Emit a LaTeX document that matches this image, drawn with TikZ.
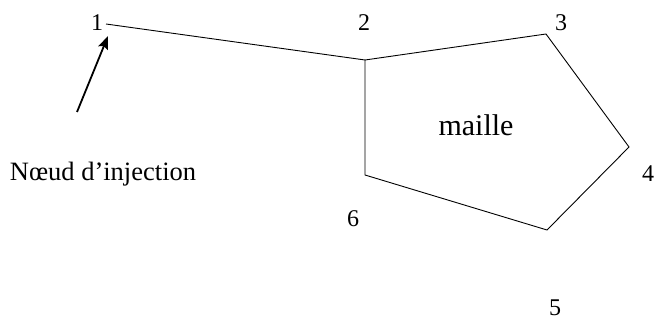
\documentclass[tikz,border=0pt]{standalone}
\usepackage{fontspec}
\setmainfont{Liberation Serif}
\usetikzlibrary{arrows.meta}
\tikzset{
  edge/.style={draw, line width=0.9pt, line join=miter},
  num/.style={font=\fontsize{24}{26}\selectfont, inner sep=0pt},
  injarrow/.style={line width=1.8pt, -{Stealth[length=13pt, width=10pt, inset=2pt]}}
}
\begin{document}
\begin{tikzpicture}[x=1pt, y=-1pt]
  \useasboundingbox (0,0) rectangle (655,320);

  % network vertices
  \coordinate (v1) at (106,24);
  \coordinate (v2) at (365,60);
  \coordinate (v3) at (546,34);
  \coordinate (v4) at (629,147);
  \coordinate (v5) at (547,230);
  \coordinate (v6) at (365,175);

  % branch to the injection node and the loop
  \draw[edge] (v1) -- (v2);
  \draw[edge] (v2) -- (v3) -- (v4) -- (v5) -- (v6) -- cycle;

  % node numbers
  \node[num] (l1) at (97,23) {1};
  \node[num] (l2) at (364,23) {2};
  \node[num] (l3) at (561,23) {3};
  \node[num] (l4) at (648,174) {4};
  \node[num] (l5) at (555,308) {5};
  \node[num] (l6) at (353,219) {6};

  \node[font=\fontsize{30}{33}\selectfont, inner sep=0pt] (mesh) at (476,125) {maille};

  % injection node label and pointer
  \node[font=\fontsize{26.5}{29}\selectfont, inner sep=0pt] (inj) at (103,174) {Nœud d’injection};
  \coordinate (tail) at (77,112);
  \coordinate (tip) at (108,36);
  \draw[injarrow] (tail) -- (tip);
\end{tikzpicture}
\end{document}
